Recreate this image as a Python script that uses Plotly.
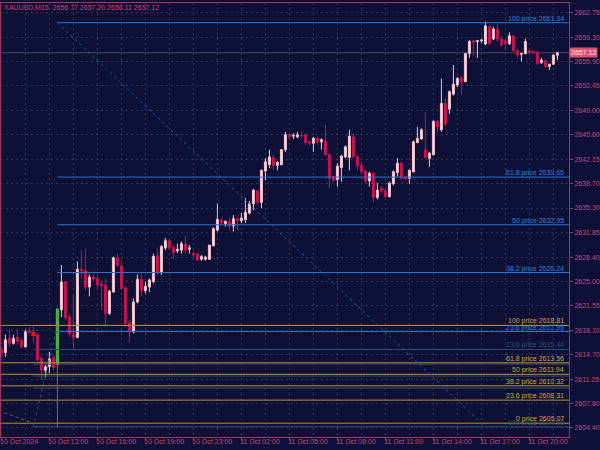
import plotly.graph_objects as go

# ---------------- data ----------------
bar_index = list(range(140))
opens = [2615.4, 2615.0, 2617.0, 2616.3, 2617.1, 2616.7, 2615.8, 2618.0, 2617.8, 2617.5,
         2614.2, 2612.5, 2613.0, 2614.3, 2613.3, 2621.0, 2624.96, 2620.0, 2617.5, 2617.1,
         2626.7, 2626.5, 2624.2, 2625.6, 2625.4, 2624.6, 2624.5, 2620.5, 2623.5, 2628.3,
         2627.2, 2624.1, 2619.2, 2617.9, 2622.1, 2625.3, 2623.7, 2624.2, 2625.0, 2628.6,
         2626.2, 2629.7, 2630.7, 2629.8, 2629.3, 2629.4, 2630.2, 2629.5, 2628.9, 2628.8,
         2628.1, 2628.1, 2628.1, 2630.0, 2632.2, 2633.6, 2633.1, 2633.4, 2632.8, 2633.8,
         2633.5, 2633.7, 2634.6, 2635.9, 2637.7, 2636.1, 2640.5, 2641.4, 2642.4, 2641.3,
         2641.4, 2643.5, 2645.6, 2645.4, 2645.3, 2645.5, 2645.6, 2644.6, 2644.4, 2645.1,
         2644.6, 2644.7, 2642.8, 2639.7, 2639.3, 2641.0, 2642.5, 2642.4, 2645.3, 2642.5,
         2641.3, 2640.5, 2639.1, 2640.2, 2636.8, 2638.1, 2637.7, 2636.9, 2638.7, 2640.3,
         2641.6, 2639.6, 2639.5, 2640.4, 2644.5, 2645.0, 2643.5, 2642.3, 2642.8, 2647.5,
         2646.3, 2650.0, 2649.2, 2651.3, 2652.6, 2653.6, 2653.05, 2657.0, 2658.8, 2658.7,
         2658.8, 2658.35, 2660.8, 2659.05, 2660.45, 2659.05, 2658.8, 2658.4, 2659.5, 2657.4,
         2656.9, 2657.0, 2657.4, 2657.3, 2657.2, 2655.7, 2656.0, 2655.2, 2655.5, 2656.77]
highs = [2615.8, 2617.5, 2618.2, 2617.5, 2618.3, 2617.0, 2618.2, 2618.6, 2618.7, 2617.7,
         2614.4, 2613.3, 2615.1, 2614.6, 2621.1, 2627.3, 2625.0, 2620.5, 2623.1, 2627.8,
         2629.4, 2629.6, 2626.0, 2626.0, 2625.9, 2625.0, 2625.4, 2623.8, 2628.5, 2628.9,
         2627.8, 2624.3, 2619.6, 2622.6, 2626.0, 2626.1, 2625.0, 2625.4, 2628.9, 2629.6,
         2630.1, 2631.1, 2631.0, 2630.1, 2630.3, 2630.6, 2631.4, 2630.1, 2629.2, 2629.0,
         2628.7, 2628.6, 2630.1, 2632.6, 2635.9, 2633.9, 2633.6, 2633.9, 2634.3, 2634.0,
         2634.6, 2636.7, 2636.3, 2638.0, 2637.9, 2640.7, 2642.3, 2643.5, 2642.8, 2641.9,
         2643.6, 2646.0, 2645.8, 2645.8, 2646.0, 2646.0, 2645.8, 2644.8, 2645.3, 2645.3,
         2645.1, 2647.0, 2643.0, 2639.9, 2641.6, 2642.8, 2644.1, 2646.3, 2645.8, 2642.7,
         2641.8, 2640.7, 2640.4, 2640.4, 2638.8, 2638.4, 2638.1, 2639.0, 2640.6, 2642.3,
         2641.8, 2639.8, 2640.7, 2644.8, 2646.7, 2646.5, 2648.8, 2643.2, 2647.6, 2647.7,
         2653.5, 2650.7, 2651.8, 2655.4, 2653.7, 2653.8, 2657.1, 2658.9, 2658.9, 2658.9,
         2659.0, 2661.5, 2661.0, 2660.8, 2661.2, 2659.4, 2659.0, 2660.0, 2659.6, 2657.7,
         2657.1, 2659.1, 2657.5, 2657.4, 2657.3, 2656.4, 2656.2, 2655.6, 2656.9, 2657.20]
lows = [2614.3, 2614.4, 2615.8, 2616.1, 2616.1, 2615.6, 2615.7, 2617.7, 2616.4, 2613.7,
        2611.1, 2611.5, 2612.1, 2612.5, 2613.3, 2620.0, 2619.6, 2617.2, 2615.6, 2617.0,
        2625.4, 2623.8, 2622.9, 2625.0, 2623.9, 2621.0, 2618.6, 2620.3, 2623.4, 2627.0,
        2623.8, 2618.5, 2616.4, 2617.7, 2621.9, 2623.0, 2623.3, 2623.5, 2624.7, 2625.9,
        2625.9, 2629.4, 2629.4, 2628.2, 2629.0, 2628.9, 2628.9, 2628.9, 2628.3, 2627.9,
        2627.9, 2627.9, 2628.0, 2629.9, 2632.0, 2632.9, 2632.7, 2632.3, 2632.0, 2632.2,
        2633.2, 2633.2, 2634.4, 2635.0, 2635.7, 2635.3, 2639.2, 2640.9, 2640.6, 2640.6,
        2641.3, 2643.2, 2644.9, 2645.0, 2645.1, 2645.1, 2644.2, 2644.1, 2643.2, 2644.2,
        2643.5, 2642.7, 2638.1, 2639.0, 2638.3, 2639.0, 2642.3, 2640.6, 2642.3, 2640.6,
        2640.2, 2638.8, 2638.3, 2636.1, 2636.5, 2637.4, 2636.8, 2636.8, 2638.5, 2639.7,
        2639.2, 2639.2, 2638.7, 2640.3, 2644.4, 2644.9, 2642.3, 2641.1, 2642.7, 2646.0,
        2646.0, 2646.8, 2648.5, 2651.1, 2652.3, 2651.2, 2653.0, 2656.4, 2656.6, 2656.4,
        2658.5, 2658.2, 2658.2, 2658.9, 2658.7, 2658.0, 2657.5, 2658.2, 2657.3, 2656.4,
        2655.9, 2656.9, 2657.0, 2657.0, 2655.4, 2655.6, 2655.0, 2654.7, 2655.4, 2656.11]
closes = [2614.9, 2616.8, 2616.3, 2617.0, 2616.6, 2615.8, 2617.9, 2617.8, 2617.6, 2614.0,
          2612.5, 2613.0, 2614.1, 2612.9, 2621.1, 2624.9, 2619.9, 2617.6, 2617.1, 2626.7,
          2626.5, 2624.2, 2625.6, 2625.3, 2624.5, 2624.4, 2620.5, 2623.6, 2628.3, 2627.3,
          2624.0, 2619.1, 2617.9, 2622.1, 2625.3, 2623.7, 2624.3, 2625.2, 2628.5, 2626.2,
          2629.9, 2630.7, 2629.7, 2629.0, 2629.5, 2630.3, 2629.4, 2629.7, 2628.7, 2628.0,
          2628.5, 2628.4, 2630.1, 2632.4, 2633.7, 2633.2, 2633.4, 2632.8, 2633.8, 2633.5,
          2633.9, 2634.7, 2635.9, 2637.8, 2636.1, 2640.6, 2641.8, 2642.5, 2641.3, 2641.7,
          2643.5, 2645.6, 2645.3, 2645.5, 2645.6, 2645.5, 2644.5, 2644.4, 2645.1, 2644.6,
          2644.9, 2642.8, 2639.5, 2639.2, 2641.2, 2642.6, 2643.9, 2645.4, 2642.5, 2641.2,
          2640.4, 2639.1, 2640.2, 2636.8, 2637.8, 2637.7, 2636.9, 2638.8, 2640.4, 2641.6,
          2639.5, 2639.4, 2640.6, 2644.6, 2645.1, 2646.3, 2642.4, 2643.0, 2647.5, 2646.7,
          2650.0, 2647.1, 2651.65, 2652.7, 2653.5, 2653.0, 2657.0, 2658.7, 2658.6, 2658.8,
          2658.9, 2660.9, 2658.4, 2660.45, 2659.05, 2658.2, 2658.4, 2659.5, 2657.4, 2656.8,
          2657.0, 2658.7, 2657.2, 2657.1, 2655.6, 2656.1, 2655.2, 2655.5, 2656.8, 2657.12]

highlight_bar = 14          # candle drawn in green
marker_bar, marker_price = 8, 2617.6
last_price = 2657.12
header_text = "XAUUSD,M15  2656.77 2657.20 2656.11 2657.12"

y_tick_vals = [2662.75, 2659.30, 2655.90, 2652.45, 2649.00, 2645.60, 2642.15, 2638.70, 2635.30,
               2631.85, 2628.40, 2625.00, 2621.55, 2618.10, 2614.70, 2611.25, 2607.80, 2604.40]
x_tick_idx = [0, 12, 24, 36, 48, 60, 72, 84, 96, 108, 120, 132]
x_tick_text = ["10 Oct 2024", "10 Oct 13:00", "10 Oct 16:00", "10 Oct 19:00", "10 Oct 23:00",
               "11 Oct 02:00", "11 Oct 05:00", "11 Oct 08:00", "11 Oct 11:00", "11 Oct 14:00",
               "11 Oct 17:00", "11 Oct 20:00"]
x_grid_idx = list(range(0, 142, 6))

fib_blue_levels = [100, 61.8, 50, 38.2, 23.6]
fib_blue_prices = [2661.34, 2639.65, 2632.95, 2626.24, 2617.95]
fib_blue_points = [(14, 2661.34), (121, 2604.56)]

fib_gold_levels = [100, 61.8, 50, 38.2, 23.6, 0]
fib_gold_prices = [2618.81, 2613.56, 2611.94, 2610.32, 2608.31, 2605.07]
fib_gold_points = [(-60, 2618.81), (8, 2605.07)]

fib_dark_levels = [0, 23.6, 38.2, 50, 61.8, 100]
fib_dark_prices = [2618.81, 2615.44, 2613.37, 2611.69, 2610.00, 2604.56]
fib_dark_label_levels = [23.6, 100]
fib_dark_points = [(8, 2604.56), (14, 2618.81)]

separator_line = (14, 2604.56, 2613.3)

# ---------------- style ----------------
BG = "#0E1036"
TXT = "#D0457A"
AXIS = "#9A3763"
GRID = "#363850"
BULL_FILL, BULL_LINE = "#FFE3E8", "#F2C3CD"
BEAR = "#C8154F"
BLUE = "#1F7AD6"
GOLD = "#B8922E"
DARK = "#34506A"
FONT = "Liberation Sans"
FS = 7

X0, X1 = -0.1, 141.9
Y0, Y1 = 2603.13, 2664.11

fig = go.Figure()

fig.add_trace(go.Candlestick(
    x=bar_index, open=opens, high=highs, low=lows, close=closes,
    increasing=dict(fillcolor=BULL_FILL, line=dict(color=BULL_LINE, width=1)),
    decreasing=dict(fillcolor=BEAR, line=dict(color=BEAR, width=1)),
    whiskerwidth=0, showlegend=False, hoverinfo="skip"))

h = highlight_bar
fig.add_trace(go.Candlestick(
    x=[h], open=[opens[h]], high=[highs[h]], low=[lows[h]], close=[closes[h]],
    increasing=dict(fillcolor="#3FB13F", line=dict(color="#3FB13F", width=1)),
    decreasing=dict(fillcolor="#3FB13F", line=dict(color="#3FB13F", width=1)),
    whiskerwidth=0, showlegend=False, hoverinfo="skip"))

fig.add_trace(go.Scatter(x=[marker_bar], y=[marker_price], mode="markers",
                         marker=dict(symbol="square", size=4, color="#FF1010"),
                         showlegend=False, hoverinfo="skip"))

shapes = []
annotations = []

def fib_label(text, price, color):
    annotations.append(dict(x=X1 - 0.8, y=price, xref="x", yref="y", text=text,
                            showarrow=False, xanchor="right", yanchor="bottom",
                            yshift=-2, font=dict(family=FONT, size=FS, color=color)))

# current price line
shapes.append(dict(type="line", xref="x", yref="y", x0=X0, x1=X1, y0=last_price, y1=last_price,
                   line=dict(color="#4E4A48", width=1), layer="below"))

# dark fib
for lvl, p in zip(fib_dark_levels, fib_dark_prices):
    shapes.append(dict(type="line", xref="x", yref="y", x0=fib_dark_points[0][0], x1=X1,
                       y0=p, y1=p, line=dict(color=DARK, width=1)))
for lvl, p in zip(fib_dark_levels, fib_dark_prices):
    if lvl in fib_dark_label_levels:
        fib_label(f"{lvl:g} price {p:.2f}", p, DARK)
shapes.append(dict(type="line", xref="x", yref="y",
                   x0=fib_dark_points[0][0], y0=fib_dark_points[0][1],
                   x1=fib_dark_points[1][0], y1=fib_dark_points[1][1],
                   line=dict(color=DARK, width=1, dash="dot")))

# gold fib
for lvl, p in zip(fib_gold_levels, fib_gold_prices):
    shapes.append(dict(type="line", xref="x", yref="y", x0=X0, x1=X1,
                       y0=p, y1=p, line=dict(color=GOLD, width=1)))
    fib_label(f"{lvl:g} price {p:.2f}", p, "#D4A838")
shapes.append(dict(type="line", xref="x", yref="y",
                   x0=fib_gold_points[0][0], y0=fib_gold_points[0][1],
                   x1=fib_gold_points[1][0], y1=fib_gold_points[1][1],
                   line=dict(color="#6E6440", width=1, dash="dot")))

# blue fib
for lvl, p in zip(fib_blue_levels, fib_blue_prices):
    shapes.append(dict(type="line", xref="x", yref="y", x0=fib_blue_points[0][0], x1=X1,
                       y0=p, y1=p, line=dict(color=BLUE, width=1)))
    fib_label(f"{lvl:g} price {p:.2f}", p, "#2A86E0")
shapes.append(dict(type="line", xref="x", yref="y",
                   x0=fib_blue_points[0][0], y0=fib_blue_points[0][1],
                   x1=fib_blue_points[1][0], y1=fib_blue_points[1][1],
                   line=dict(color="#1E5C9C", width=1, dash="dot")))

# grey separator line
shapes.append(dict(type="line", xref="x", yref="y", x0=separator_line[0], x1=separator_line[0],
                   y0=separator_line[1], y1=separator_line[2],
                   line=dict(color="#6C6C7C", width=1)))

# x labels (left aligned at tick)
for i, t in zip(x_tick_idx, x_tick_text):
    annotations.append(dict(x=i, y=0, xref="x", yref="paper", text=t, showarrow=False,
                            xanchor="left", yanchor="top", xshift=-3, yshift=1,
                            font=dict(family=FONT, size=FS, color=TXT)))

# header
annotations.append(dict(x=0, y=1, xref="paper", yref="paper", text=header_text,
                        showarrow=False, xanchor="left", yanchor="top", xshift=1, yshift=1,
                        font=dict(family=FONT, size=FS, color=TXT)))

# current price tag
annotations.append(dict(x=1, y=last_price, xref="paper", yref="y", text=f"{last_price:.2f}",
                        showarrow=False, xanchor="left", yanchor="middle", xshift=0,
                        bgcolor="#E2506F", borderpad=1,
                        font=dict(family=FONT, size=FS, color="#FFE8EE")))

fig.update_layout(
    width=600, height=450,
    margin=dict(l=1, r=31, t=3, b=13),
    paper_bgcolor=BG, plot_bgcolor=BG,
    shapes=shapes, annotations=annotations,
    showlegend=False, hovermode=False,
    xaxis=dict(type="linear", range=[X0, X1], rangeslider=dict(visible=False),
               tickmode="array", tickvals=x_tick_idx, showticklabels=False,
               ticks="outside", ticklen=3, tickcolor=AXIS,
               showgrid=True, gridcolor=GRID, griddash="2px,3px", gridwidth=1,
               minor=dict(tickmode="array", tickvals=x_grid_idx, showgrid=True,
                          gridcolor=GRID, griddash="2px,3px", ticks=""),
               showline=True, linecolor=AXIS, linewidth=1, mirror=True, zeroline=False,
               fixedrange=True, automargin=False),
    yaxis=dict(range=[Y0, Y1], side="right", tickmode="array", tickvals=y_tick_vals,
               ticktext=[f"{v:.2f}" for v in y_tick_vals],
               ticks="outside", ticklen=3, tickcolor=AXIS,
               tickfont=dict(family=FONT, size=FS, color=TXT),
               showgrid=True, gridcolor=GRID, griddash="2px,3px", gridwidth=1,
               showline=True, linecolor=AXIS, linewidth=1, mirror=True, zeroline=False,
               fixedrange=True, automargin=False),
)

fig.write_html("out.html", config={"displayModeBar": False},
               post_script="document.body.style.margin='0';document.body.style.background='#0E1036';")
